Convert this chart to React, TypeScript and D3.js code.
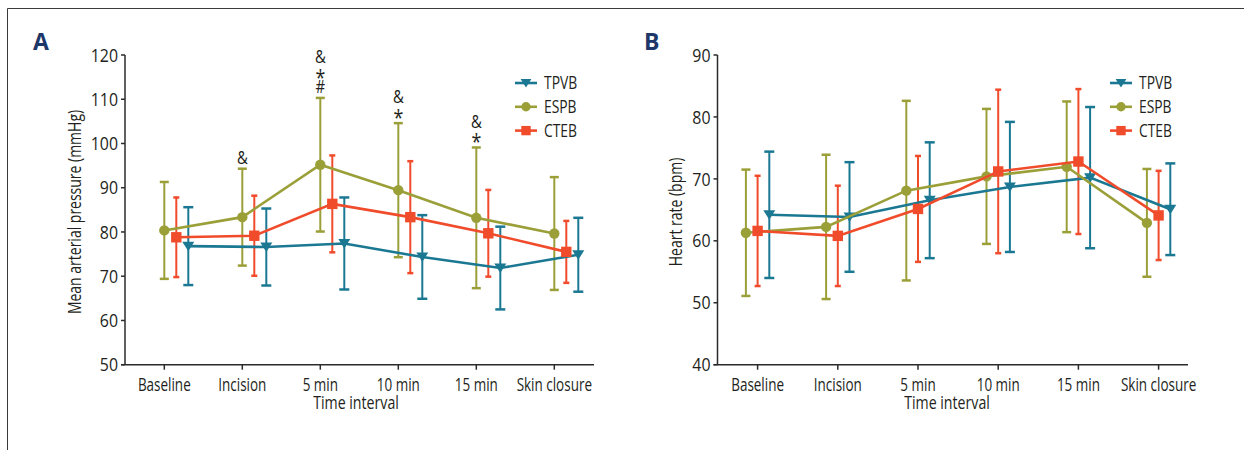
import React from "react";
import * as d3 from "d3";

const categories = ["Baseline", "Incision", "5 min", "10 min", "15 min", "Skin closure"];
const seriesNames = ["TPVB", "ESPB", "CTEB"];

// Panel A: mean arterial pressure (mmHg), mean and SD
const mapTPVB = [76.8, 76.6, 77.4, 74.35, 71.85, 74.85];
const mapTPVBsd = [8.8, 8.7, 10.4, 9.45, 9.35, 8.35];
const mapESPB = [80.35, 83.35, 95.2, 89.45, 83.2, 79.65];
const mapESPBsd = [10.95, 10.95, 15.1, 15.15, 15.9, 12.75];
const mapCTEB = [78.8, 79.15, 86.35, 83.35, 79.7, 75.5];
const mapCTEBsd = [9.0, 9.05, 10.95, 12.65, 9.8, 7.0];
const mapTicks = [50, 60, 70, 80, 90, 100, 110, 120];
const mapAnnotations = [[], ["&"], ["&", "*", "#"], ["&", "*"], ["&", "*"], []];

// Panel B: heart rate (bpm), mean and SD
const hrTPVB = [64.2, 63.85, 66.55, 68.7, 70.2, 65.1];
const hrTPVBsd = [10.2, 8.85, 9.35, 10.5, 11.4, 7.4];
const hrESPB = [61.3, 62.25, 68.1, 70.4, 71.95, 62.9];
const hrESPBsd = [10.2, 11.65, 14.5, 10.9, 10.55, 8.7];
const hrCTEB = [61.6, 60.8, 65.15, 71.2, 72.8, 64.1];
const hrCTEBsd = [8.9, 8.1, 8.55, 13.2, 11.7, 7.2];
const hrTicks = [40, 50, 60, 70, 80, 90];

const COLORS: Record<string, string> = { TPVB: "#1b7893", ESPB: "#9b9f38", CTEB: "#f04b2b" };
const CAPW: Record<string, number> = { TPVB: 10, ESPB: 9, CTEB: 6 };
const FONT = "'Open Sans','Noto Sans',sans-serif";
const AXIS = "#2b2b2b";
const TXT = "#231f20";

type Series = { name: string; mean: number[]; sd: number[]; offset: number };

function T(p: { x: number; y: number; size: number; sx?: number; anchor?: string; rotate?: boolean; dy?: string; children: React.ReactNode }) {
  return (
    <text
      transform={`translate(${p.x},${p.y})${p.rotate ? " rotate(-90)" : ""} scale(${p.sx ?? 0.77},1)`}
      textAnchor={p.anchor || "start"}
      dy={p.dy || "0"}
      fontSize={p.size}
      fontFamily={FONT}
      fill={TXT}
    >
      {p.children}
    </text>
  );
}

function Marker({ name, x, y, s = 1 }: { name: string; x: number; y: number; s?: number }) {
  const c = COLORS[name];
  if (name === "ESPB") return <circle cx={x} cy={y} r={5.2 * s} fill={c} />;
  if (name === "CTEB") return <rect x={x - 5.2 * s} y={y - 5.2 * s} width={10.4 * s} height={10.4 * s} fill={c} />;
  const w = 6 * s, h1 = 4.5 * s, h2 = 5 * s;
  return <path d={`M${x - w},${y - h1}L${x + w},${y - h1}L${x},${y + h2}Z`} fill={c} />;
}

function Panel(props: {
  letter: string; letterX: number;
  axisLeft: number; axisRight: number; tickStart: number; tickEnd: number;
  yDomain: [number, number]; ticks: number[]; series: Series[];
  yLabel: string; yLabelX: number; titleX: number; legendX: number;
  annotations?: string[][];
}) {
  const yTop = 55, yBottom = 364.7;
  const x = d3.scalePoint<string>().domain(categories).range([props.tickStart, props.tickEnd]);
  const y = d3.scaleLinear().domain(props.yDomain).range([yBottom, yTop]);
  const line = d3.line<[number, number]>();
  const order = ["TPVB", "ESPB", "CTEB"];
  const ser = order.map((n) => props.series.find((s) => s.name === n)!);
  const espb = props.series.find((s) => s.name === "ESPB")!;
  return (
    <g>
      <text x={props.letterX} y={50} fontFamily="'Open Sans','Liberation Sans',sans-serif" fontWeight="bold" fontSize={23} fill="#1c3768">{props.letter}</text>
      {/* y axis */}
      <line x1={props.axisLeft} x2={props.axisLeft} y1={yTop} y2={yBottom} stroke={AXIS} strokeWidth={1.5} />
      {props.ticks.map((t) => (
        <g key={t}>
          <line x1={props.axisLeft - 4} x2={props.axisLeft} y1={y(t)} y2={y(t)} stroke={AXIS} strokeWidth={1.5} />
          <T x={props.axisLeft - 7} y={y(t)} dy="0.36em" anchor="end" size={18.5} sx={0.86}>{t}</T>
        </g>
      ))}
      {/* x axis */}
      <line x1={props.axisLeft - 4} x2={props.axisRight} y1={yBottom} y2={yBottom} stroke={AXIS} strokeWidth={1.5} />
      {categories.map((c) => (
        <g key={c}>
          <line x1={x(c)!} x2={x(c)!} y1={yBottom} y2={yBottom + 5} stroke={AXIS} strokeWidth={1.5} />
          <T x={x(c)!} y={391} anchor="middle" size={17.5}>{c}</T>
        </g>
      ))}
      <T x={props.titleX} y={408.5} anchor="middle" size={17.5} sx={0.81}>Time interval</T>
      <T x={props.yLabelX} y={212} rotate anchor="middle" dy="0.36em" size={17.5} sx={0.8}>{props.yLabel}</T>
      {/* error bars */}
      {ser.map((s) => (
        <g key={s.name + "e"} stroke={COLORS[s.name]} strokeWidth={2}>
          {categories.map((c, i) => {
            const cx = x(c)! + s.offset;
            const hi = y(s.mean[i] + s.sd[i]), lo = y(s.mean[i] - s.sd[i]);
            const w = CAPW[s.name] / 2;
            return (
              <g key={c}>
                <line x1={cx} x2={cx} y1={hi} y2={lo} />
                <line x1={cx - w} x2={cx + w} y1={hi} y2={hi} strokeWidth={2.5} />
                <line x1={cx - w} x2={cx + w} y1={lo} y2={lo} strokeWidth={2.5} />
              </g>
            );
          })}
        </g>
      ))}
      {/* lines and markers */}
      {ser.map((s) => (
        <g key={s.name + "l"}>
          <path d={line(categories.map((c, i) => [x(c)! + s.offset, y(s.mean[i])] as [number, number])) || ""} fill="none" stroke={COLORS[s.name]} strokeWidth={2.6} />
          {categories.map((c, i) => <Marker key={c} name={s.name} x={x(c)! + s.offset} y={y(s.mean[i])} />)}
        </g>
      ))}
      {/* annotations */}
      {props.annotations && categories.map((c, i) => {
        const arr = props.annotations![i];
        const cap = y(espb.mean[i] + espb.sd[i]);
        return arr.map((sym, j) => {
          const cy = cap - 11 - (arr.length - 1 - j) * 15;
          const star = sym === "*";
          return (
            <T key={c + j} x={x(c)! + espb.offset} y={cy} dy={star ? "0.62em" : "0.36em"} anchor="middle" size={star ? 21 : 17.5} sx={0.85}>{sym}</T>
          );
        });
      })}
      {/* legend */}
      {seriesNames.map((n, i) => {
        const ly = 83 + i * 23.8;
        return (
          <g key={n}>
            <line x1={props.legendX} x2={props.legendX + 22} y1={ly} y2={ly} stroke={COLORS[n]} strokeWidth={2.6} />
            <Marker name={n} x={props.legendX + 11} y={ly} s={0.9} />
            <T x={props.legendX + 29} y={ly} dy="0.36em" size={18}>{n}</T>
          </g>
        );
      })}
    </g>
  );
}

export default function App() {
  const seriesA: Series[] = [
    { name: "TPVB", mean: mapTPVB, sd: mapTPVBsd, offset: 24 },
    { name: "ESPB", mean: mapESPB, sd: mapESPBsd, offset: 0 },
    { name: "CTEB", mean: mapCTEB, sd: mapCTEBsd, offset: 12 },
  ];
  const seriesB: Series[] = [
    { name: "TPVB", mean: hrTPVB, sd: hrTPVBsd, offset: 11.7 },
    { name: "ESPB", mean: hrESPB, sd: hrESPBsd, offset: -11.7 },
    { name: "CTEB", mean: hrCTEB, sd: hrCTEBsd, offset: 0 },
  ];
  return (
    <svg width={1244} height={450} style={{ position: "absolute", left: 0, top: 0, background: "#fff" }}>
      <rect width={1244} height={450} fill="#fff" />
      <path d="M7.5,450V8.5H1244" fill="none" stroke="#3a3a3a" strokeWidth={1} />
      <Panel letter="A" letterX={33} axisLeft={125} axisRight={594} tickStart={164.3} tickEnd={554.3}
        yDomain={[50, 120]} ticks={mapTicks} series={seriesA} yLabel="Mean arterial pressure (mmHg)"
        yLabelX={75} titleX={356} legendX={515} annotations={mapAnnotations} />
      <Panel letter="B" letterX={644} axisLeft={717.5} axisRight={1188} tickStart={757.6} tickEnd={1158.6}
        yDomain={[40, 90]} ticks={hrTicks} series={seriesB} yLabel="Heart rate (bpm)"
        yLabelX={676} titleX={947} legendX={1110} />
    </svg>
  );
}
